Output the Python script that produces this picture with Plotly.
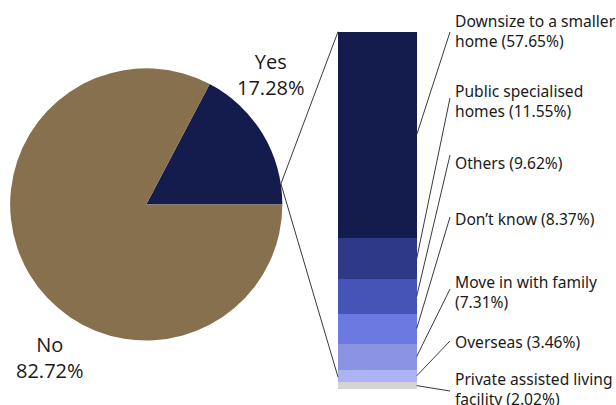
import math
import plotly.graph_objects as go

W, H = 616, 405

# ---- data ----
pie_labels = ["Yes", "No"]
pie_values = [17.28, 82.72]
pie_colors = ["#141B4D", "#87704D"]

bar_categories = ["Downsize to a smaller<br>home", "Public specialised<br>homes", "Others",
                  "Don’t know", "Move in with family", "Overseas",
                  "Private assisted living<br>facility"]
bar_values = [57.65, 11.55, 9.62, 8.37, 7.31, 3.46, 2.02]
bar_colors = ["#141B4D", "#2E3A87", "#4654B8", "#6B79E0", "#8A94E3", "#ADB3F2", "#D4D4D4"]
label_sep = [" ", " ", " ", " ", "<br>", " ", " "]

# ---- layout geometry (pixels) ----
bar_left, bar_right = 338.0, 416.7
bar_top_px, bar_bot_px = 31.7, 389.3
px_per_pct = (bar_bot_px - bar_top_px) / 100.0
y_lo = -(H - bar_bot_px) / px_per_pct
y_hi = 100 + bar_top_px / px_per_pct


def val(py):
    return (bar_bot_px - py) / px_per_pct


pie_x0, pie_x1, pie_y0, pie_y1 = 10.0, 282.5, 68.3, 340.5
pcx, pcy = (pie_x0 + pie_x1) / 2, (pie_y0 + pie_y1) / 2
pr = (pie_x1 - pie_x0) / 2

label_x = 453
label_y = [31, 101, 163, 219, 292, 342, 389]
leader_start_y = [32, 98, 155, 217, 289, 341, 391]

fig = go.Figure()

# pie
fig.add_trace(go.Pie(
    labels=pie_labels, values=pie_values, sort=False, direction="clockwise",
    rotation=90 - pie_values[0] * 3.6,
    marker=dict(colors=pie_colors, line=dict(width=0)),
    textinfo="none", hoverinfo="label+percent", showlegend=False,
    domain=dict(x=[pie_x0 / W, pie_x1 / W], y=[1 - pie_y1 / H, 1 - pie_y0 / H]),
))

# stacked bar (bottom-first order)
for name, v, c in reversed(list(zip(bar_categories, bar_values, bar_colors))):
    fig.add_trace(go.Bar(
        x=[(bar_left + bar_right) / 2], y=[v], width=bar_right - bar_left,
        marker=dict(color=c, line=dict(width=0)), name=name.replace("<br>", " "),
        showlegend=False, hoverinfo="name+y",
    ))

line_style = dict(color="#3a3a3a", width=1)

# connectors pie -> bar
ang = math.radians(8.7)
px_ = pcx + pr * math.cos(ang)
py_ = pcy - pr * math.sin(ang)
fig.add_trace(go.Scatter(x=[bar_left, px_, bar_left], y=[100, val(py_), val(377)],
                         mode="lines", line=line_style, hoverinfo="skip", showlegend=False))

# leaders
cum = 100.0
for i, v in enumerate(bar_values):
    mid = cum - v / 2
    cum -= v
    fig.add_trace(go.Scatter(x=[bar_right, label_x - 3], y=[mid, val(leader_start_y[i])],
                             mode="lines", line=line_style, hoverinfo="skip", showlegend=False))
    fig.add_annotation(x=label_x / W, y=1 - label_y[i] / H, xref="paper", yref="paper",
                       xanchor="left", yanchor="middle", align="left", showarrow=False,
                       text=f"{bar_categories[i]}{label_sep[i]}({v:.2f}%)",
                       font=dict(family="Noto Sans", size=15.6, color="#1a1a1a"))

# pie labels
fig.add_annotation(x=271 / W, y=1 - 75 / H, xref="paper", yref="paper", showarrow=False,
                   xanchor="center", yanchor="middle", align="center",
                   text=f"{pie_labels[0]}<br>{pie_values[0]:.2f}%",
                   font=dict(family="Open Sans", size=20, color="#1a1a1a"))
fig.add_annotation(x=50 / W, y=1 - 357 / H, xref="paper", yref="paper", showarrow=False,
                   xanchor="center", yanchor="middle", align="center",
                   text=f"{pie_labels[1]}<br>{pie_values[1]:.2f}%",
                   font=dict(family="Open Sans", size=20, color="#1a1a1a"))

fig.update_layout(
    width=W, height=H, margin=dict(l=0, r=0, t=0, b=0),
    paper_bgcolor="white", plot_bgcolor="rgba(0,0,0,0)",
    barmode="stack", bargap=0,
    xaxis=dict(range=[0, W], visible=False, fixedrange=True),
    yaxis=dict(range=[y_lo, y_hi], visible=False, fixedrange=True),
)

fig.write_html("out.html")
